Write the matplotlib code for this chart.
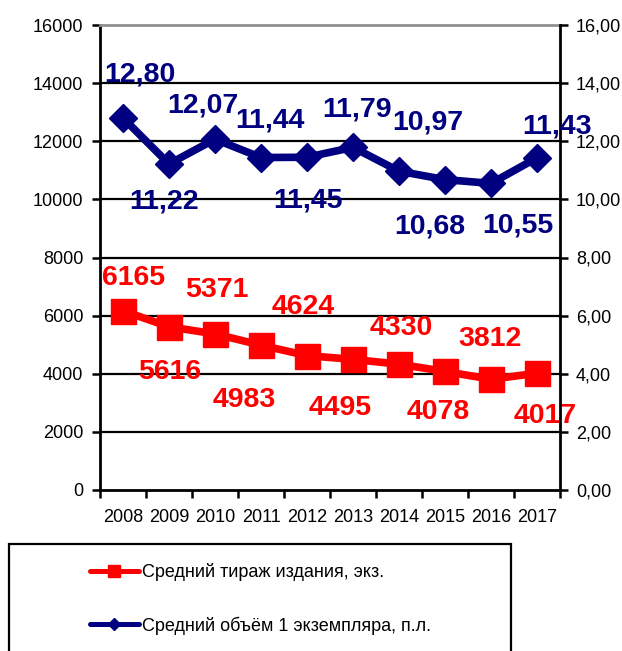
import matplotlib
matplotlib.use("Agg")
import matplotlib.pyplot as plt
from matplotlib.lines import Line2D
from matplotlib.patches import Rectangle
import numpy as np

plt.rcParams['font.family'] = ['Liberation Sans', 'DejaVu Sans']

# -------------------------------------
# Data
# -------------------------------------
years = ['2008', '2009', '2010', '2011', '2012', '2013', '2014', '2015', '2016', '2017']
circulation = [6165, 5616, 5371, 4983, 4624, 4495, 4330, 4078, 3812, 4017]
volume = [12.80, 11.22, 12.07, 11.44, 11.45, 11.79, 10.97, 10.68, 10.55, 11.43]

label_circ = 'Средний тираж издания, экз.'
label_vol = 'Средний объём 1 экземпляра, п.л.'

# label offsets (pixels, x right / y down) of the data labels
circ_offsets = [(11, -36), (1, 42), (2, -47), (-17, 52), (-4, -52),
                (-13, 46), (2, -39), (-7, 38), (-1, -43), (8, 40)]
vol_offsets = [(17, -46), (-5, 35), (-12, -37), (9, -40), (1, 40),
               (4, -41), (29, -52), (-15, 44), (27, 39), (20, -34)]

RED = '#FF0000'
NAVY = '#000080'
W, H = 622, 651

fig = plt.figure(figsize=(W / 100, H / 100), dpi=100)
ax = fig.add_axes([100 / W, 1 - 490 / H, 460 / W, 465 / H])
ax2 = ax.twinx()

x = np.arange(len(years))

# left axis: circulation
ax.plot(x, circulation, color=RED, lw=5.5, marker='s', ms=18,
        solid_joinstyle='round', zorder=3, clip_on=False)
ax.set_ylim(0, 16000)
ax.set_yticks(np.arange(0, 16001, 2000))
ax.set_xlim(-0.5, len(years) - 0.5)
ax.set_xticks(np.arange(-0.5, len(years), 1.0))
ax.set_xticklabels([])
ax.set_xticks(x, minor=True)
ax.set_xticklabels(years, minor=True)
ax.tick_params(axis='x', which='major', direction='out', length=6, width=1.8)
ax.tick_params(axis='x', which='minor', length=0, pad=13.5, labelsize=13)
ax.tick_params(axis='y', direction='out', length=6, width=1.8, pad=6, labelsize=13)

ax.yaxis.grid(True, color='black', lw=1.6)
ax.get_ygridlines()[-1].set_visible(False)
ax.get_ygridlines()[0].set_visible(False)
for side in ['left', 'bottom']:
    ax.spines[side].set_linewidth(2)
ax.spines['top'].set_color('#909090')
ax.spines['top'].set_linewidth(2)
ax.spines['right'].set_visible(False)

for xi, v, (dx, dy) in zip(x, circulation, circ_offsets):
    ax.annotate(str(v), (xi, v), xytext=(dx, -(dy + 10)), textcoords='offset pixels',
                ha='center', va='baseline', fontsize=20.5, fontweight='bold',
                color=RED, zorder=5)

# right axis: volume
ax2.plot(x, volume, color=NAVY, lw=5.5, marker='D', ms=14,
         solid_joinstyle='round', zorder=3, clip_on=False)
ax2.set_ylim(0, 16)
ax2.set_yticks(np.arange(0, 16.01, 2))
ax2.set_yticklabels(['{:.2f}'.format(t).replace('.', ',') for t in np.arange(0, 16.01, 2)])
ax2.tick_params(axis='y', direction='out', length=6, width=1.8, pad=5.5, labelsize=13)
for side in ['left', 'top', 'bottom']:
    ax2.spines[side].set_visible(False)
ax2.spines['right'].set_linewidth(2)

for xi, v, (dx, dy) in zip(x, volume, vol_offsets):
    ax2.annotate('{:.2f}'.format(v).replace('.', ','), (xi, v), xytext=(dx, -(dy + 10)),
                 textcoords='offset pixels', ha='center', va='baseline', fontsize=20.5,
                 fontweight='bold', color=NAVY, zorder=5, annotation_clip=False)

# legend box (runs off the bottom edge)
fig.patches.append(Rectangle((9 / W, -0.05), 502 / W, 0.05 + 1 - 544 / H,
                             transform=fig.transFigure, fill=False,
                             edgecolor='black', lw=1.6))
handles = [Line2D([], [], color=RED, lw=3.6, marker='s', ms=8, solid_capstyle='round'),
           Line2D([], [], color=NAVY, lw=3.6, marker='D', ms=6, solid_capstyle='round')]
fig.legend(handles, [label_circ, label_vol], loc='center left',
           bbox_to_anchor=(90 / W, 1 - 599 / H), frameon=False, fontsize=13,
           handlelength=2.7, handletextpad=0.2, labelspacing=1.95,
           borderpad=0, borderaxespad=0)

fig.savefig('out.png', dpi=100)
